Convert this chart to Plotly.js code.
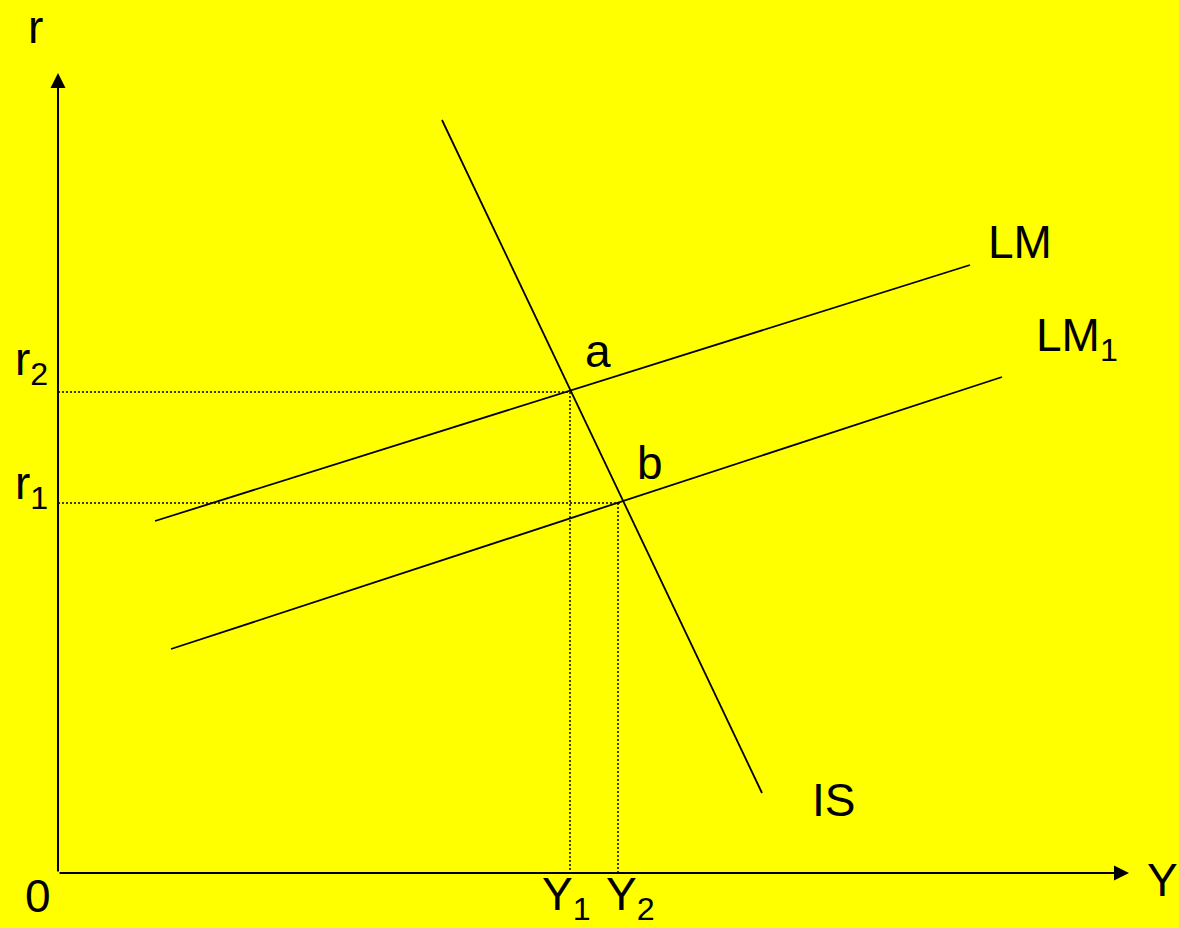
<!DOCTYPE html>
<html><head><meta charset="utf-8">
<script src="https://cdn.plot.ly/plotly-3.0.1.min.js"></script>
<style>html,body{margin:0;padding:0;background:#FFFF00;overflow:hidden;}</style>
</head><body><div id="chart" style="width:1179px;height:928px;"></div>
<script>
// IS-LM diagram data (x = output Y, y = interest rate r)
const isX = [38.4, 70.4];
const isY = [75.3, 8.0];
const lmX = [9.7, 91.2];
const lmY = [35.2, 60.8];
const lm1X = [11.3, 94.4];
const lm1Y = [22.4, 49.6];
const outputLevels = [51.2, 56.0];   // Y1, Y2
const rateLevels = [48.1, 37.0];     // r2, r1
const rateLineEnds = [51.2, 56.4];   // where dotted r-lines meet IS
const tickY = ['Y<sub>1</sub>', 'Y<sub>2</sub>'];
const tickR = ['r<sub>2</sub>', 'r<sub>1</sub>'];
const curveNames = ['IS', 'LM', 'LM<sub>1</sub>'];
const pointNames = ['a', 'b'];
const axisMax = [107.1, 80.0];

const FONT = 'Arial, "Liberation Sans", sans-serif';
const solid = {color: '#000', width: 1.8};
const dotted = {color: '#000', width: 1.5, dash: '2px,2px'};

const traces = [
  {x: isX, y: isY, mode: 'lines', line: solid},
  {x: lmX, y: lmY, mode: 'lines', line: solid},
  {x: lm1X, y: lm1Y, mode: 'lines', line: solid},
  // dotted guides
  {x: [0, rateLineEnds[0]], y: [rateLevels[0], rateLevels[0]], mode: 'lines', line: dotted},
  {x: [outputLevels[0], outputLevels[0]], y: [rateLevels[0], 0], mode: 'lines', line: dotted},
  {x: [0, rateLineEnds[1]], y: [rateLevels[1], rateLevels[1]], mode: 'lines', line: dotted},
  {x: [outputLevels[1], outputLevels[1]], y: [rateLevels[1], 0], mode: 'lines', line: dotted}
];

// pixel -> data helpers for label placement
const PX = p => (p - 58) / 10;
const PY = p => (873 - p) / 10;
function lab(text, x, y, opts) {
  return Object.assign({
    text: text, x: x, y: y, xref: 'x', yref: 'y', showarrow: false,
    xanchor: 'center', yanchor: 'middle',
    font: {family: FONT, size: 46, color: '#000'}
  }, opts || {});
}

const annotations = [
  // axes with arrowheads
  {x: axisMax[0], y: 0, ax: 0, ay: 0, axref: 'x', ayref: 'y', xref: 'x', yref: 'y',
   text: '', showarrow: true, arrowhead: 2, arrowsize: 1.5, arrowwidth: 2, arrowcolor: '#000', standoff: 0},
  {x: 0, y: axisMax[1], ax: 0, ay: 0, axref: 'x', ayref: 'y', xref: 'x', yref: 'y',
   text: '', showarrow: true, arrowhead: 2, arrowsize: 1.5, arrowwidth: 2, arrowcolor: '#000', standoff: 0},
  lab('r', PX(35), PY(27)),
  lab('Y', PX(1162), PY(880)),
  lab('0', PX(38), PY(896)),
  lab(tickY[0], outputLevels[0], PY(897), {xanchor: 'left', xshift: -30}),
  lab(tickY[1], outputLevels[1], PY(897), {xanchor: 'left', xshift: -14}),
  lab(tickR[0], PX(13), rateLevels[0], {xanchor: 'left', yshift: 30}),
  lab(tickR[1], PX(13), rateLevels[1], {xanchor: 'left', yshift: 17}),
  lab(pointNames[0], PX(598), PY(351)),
  lab(pointNames[1], PX(650), PY(463)),
  lab(curveNames[1], PX(986), PY(242), {xanchor: 'left'}),
  lab(curveNames[2], PX(1034), PY(338), {xanchor: 'left'}),
  lab(curveNames[0], PX(810), PY(800), {xanchor: 'left'})
];

const layout = {
  width: 1179, height: 928,
  margin: {l: 0, r: 0, t: 0, b: 0},
  paper_bgcolor: '#FFFF00', plot_bgcolor: '#FFFF00',
  showlegend: false,
  xaxis: {range: [-5.8, 112.1], visible: false, fixedrange: true},
  yaxis: {range: [-5.5, 87.3], visible: false, fixedrange: true},
  annotations: annotations
};

Plotly.newPlot('chart', traces, layout, {staticPlot: true, displayModeBar: false});
</script>
</body></html>
